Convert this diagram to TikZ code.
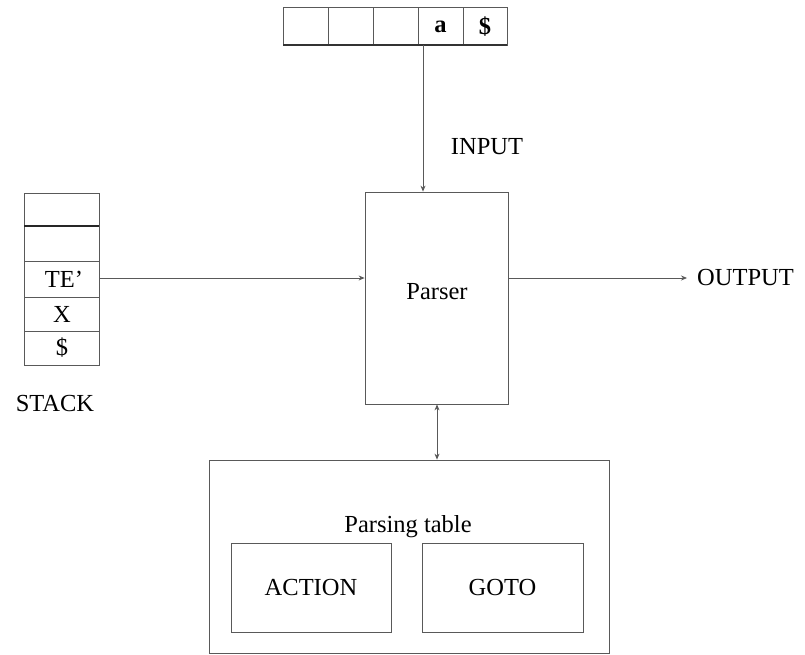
\documentclass[tikz,border=0pt]{standalone}
\usepackage{fontspec}
\setmainfont{Liberation Serif}
\usetikzlibrary{arrows.meta}
\begin{document}
\begin{tikzpicture}[x=1pt,y=-1pt,
  ln/.style={draw=black!65,line width=0.8pt},
  box/.style={ln,fill=none},
  lbl/.style={font=\fontsize{24.5}{26}\selectfont,inner sep=0pt},
  arr/.style={ln,-{Stealth[length=6pt,width=5pt]}}]
\useasboundingbox (0,0) rectangle (805,654);
% input tape
\foreach \a/\b in {283/328,328/373,373/418,418/463,463/507}
  \draw[box] (\a,7) rectangle (\b,45);
\draw[draw=black!80,line width=1.6pt] (283,45) -- (507,45);
\node[lbl] (ta) at (440.5,27) {\textbf{a}};
\node[lbl] (td) at (485,27) {\textbf{\$}};
\coordinate (tape) at (423,45);
% parser
\node[box,minimum width=143pt,minimum height=212pt,inner sep=0pt] (parser) at (436.5,298) {};
\node[lbl] (ptext) at (437,292) {Parser};
\node[lbl] (input) at (487,147) {INPUT};
\draw[arr] (tape) -- (tape|-parser.north);
% stack
\draw[box] (24,193) rectangle (99,365);
\draw[draw=black!85,line width=1.4pt] (24,226) -- (99,226);
\draw[ln] (24,261) -- (99,261);
\draw[ln] (24,297) -- (99,297);
\draw[ln] (24,331) -- (99,331);
\node[lbl] (s1) at (64,279) {TE’};
\node[lbl] (s2) at (62,314) {X};
\node[lbl] (s3) at (62,348) {\$};
\node[lbl] (stack) at (55,403) {STACK};
\coordinate (stk) at (99,278);
\draw[arr] (stk) -- (stk-|parser.west);
% output
\node[lbl,anchor=west] (output) at (697,278) {OUTPUT};
\draw[arr] (parser.east|-stk) -- ([xshift=-10pt]output.west|-stk);
% parsing table
\node[box,minimum width=400pt,minimum height=193pt,inner sep=0pt] (table) at (409.5,556.5) {};
\node[lbl] (ptab) at (408,527) {Parsing table};
\node[box,minimum width=160pt,minimum height=89pt,inner sep=0pt] (action) at (311,587.5) {};
\node[lbl] at (action) {ACTION};
\node[box,minimum width=161pt,minimum height=89pt,inner sep=0pt] (goto) at (502.5,587.5) {};
\node[lbl] at (goto) {GOTO};
\coordinate (mid) at (437,0);
\draw[ln,{Stealth[length=6pt,width=5pt]}-{Stealth[length=6pt,width=5pt]}] (mid|-parser.south) -- (mid|-table.north);
\end{tikzpicture}
\end{document}
